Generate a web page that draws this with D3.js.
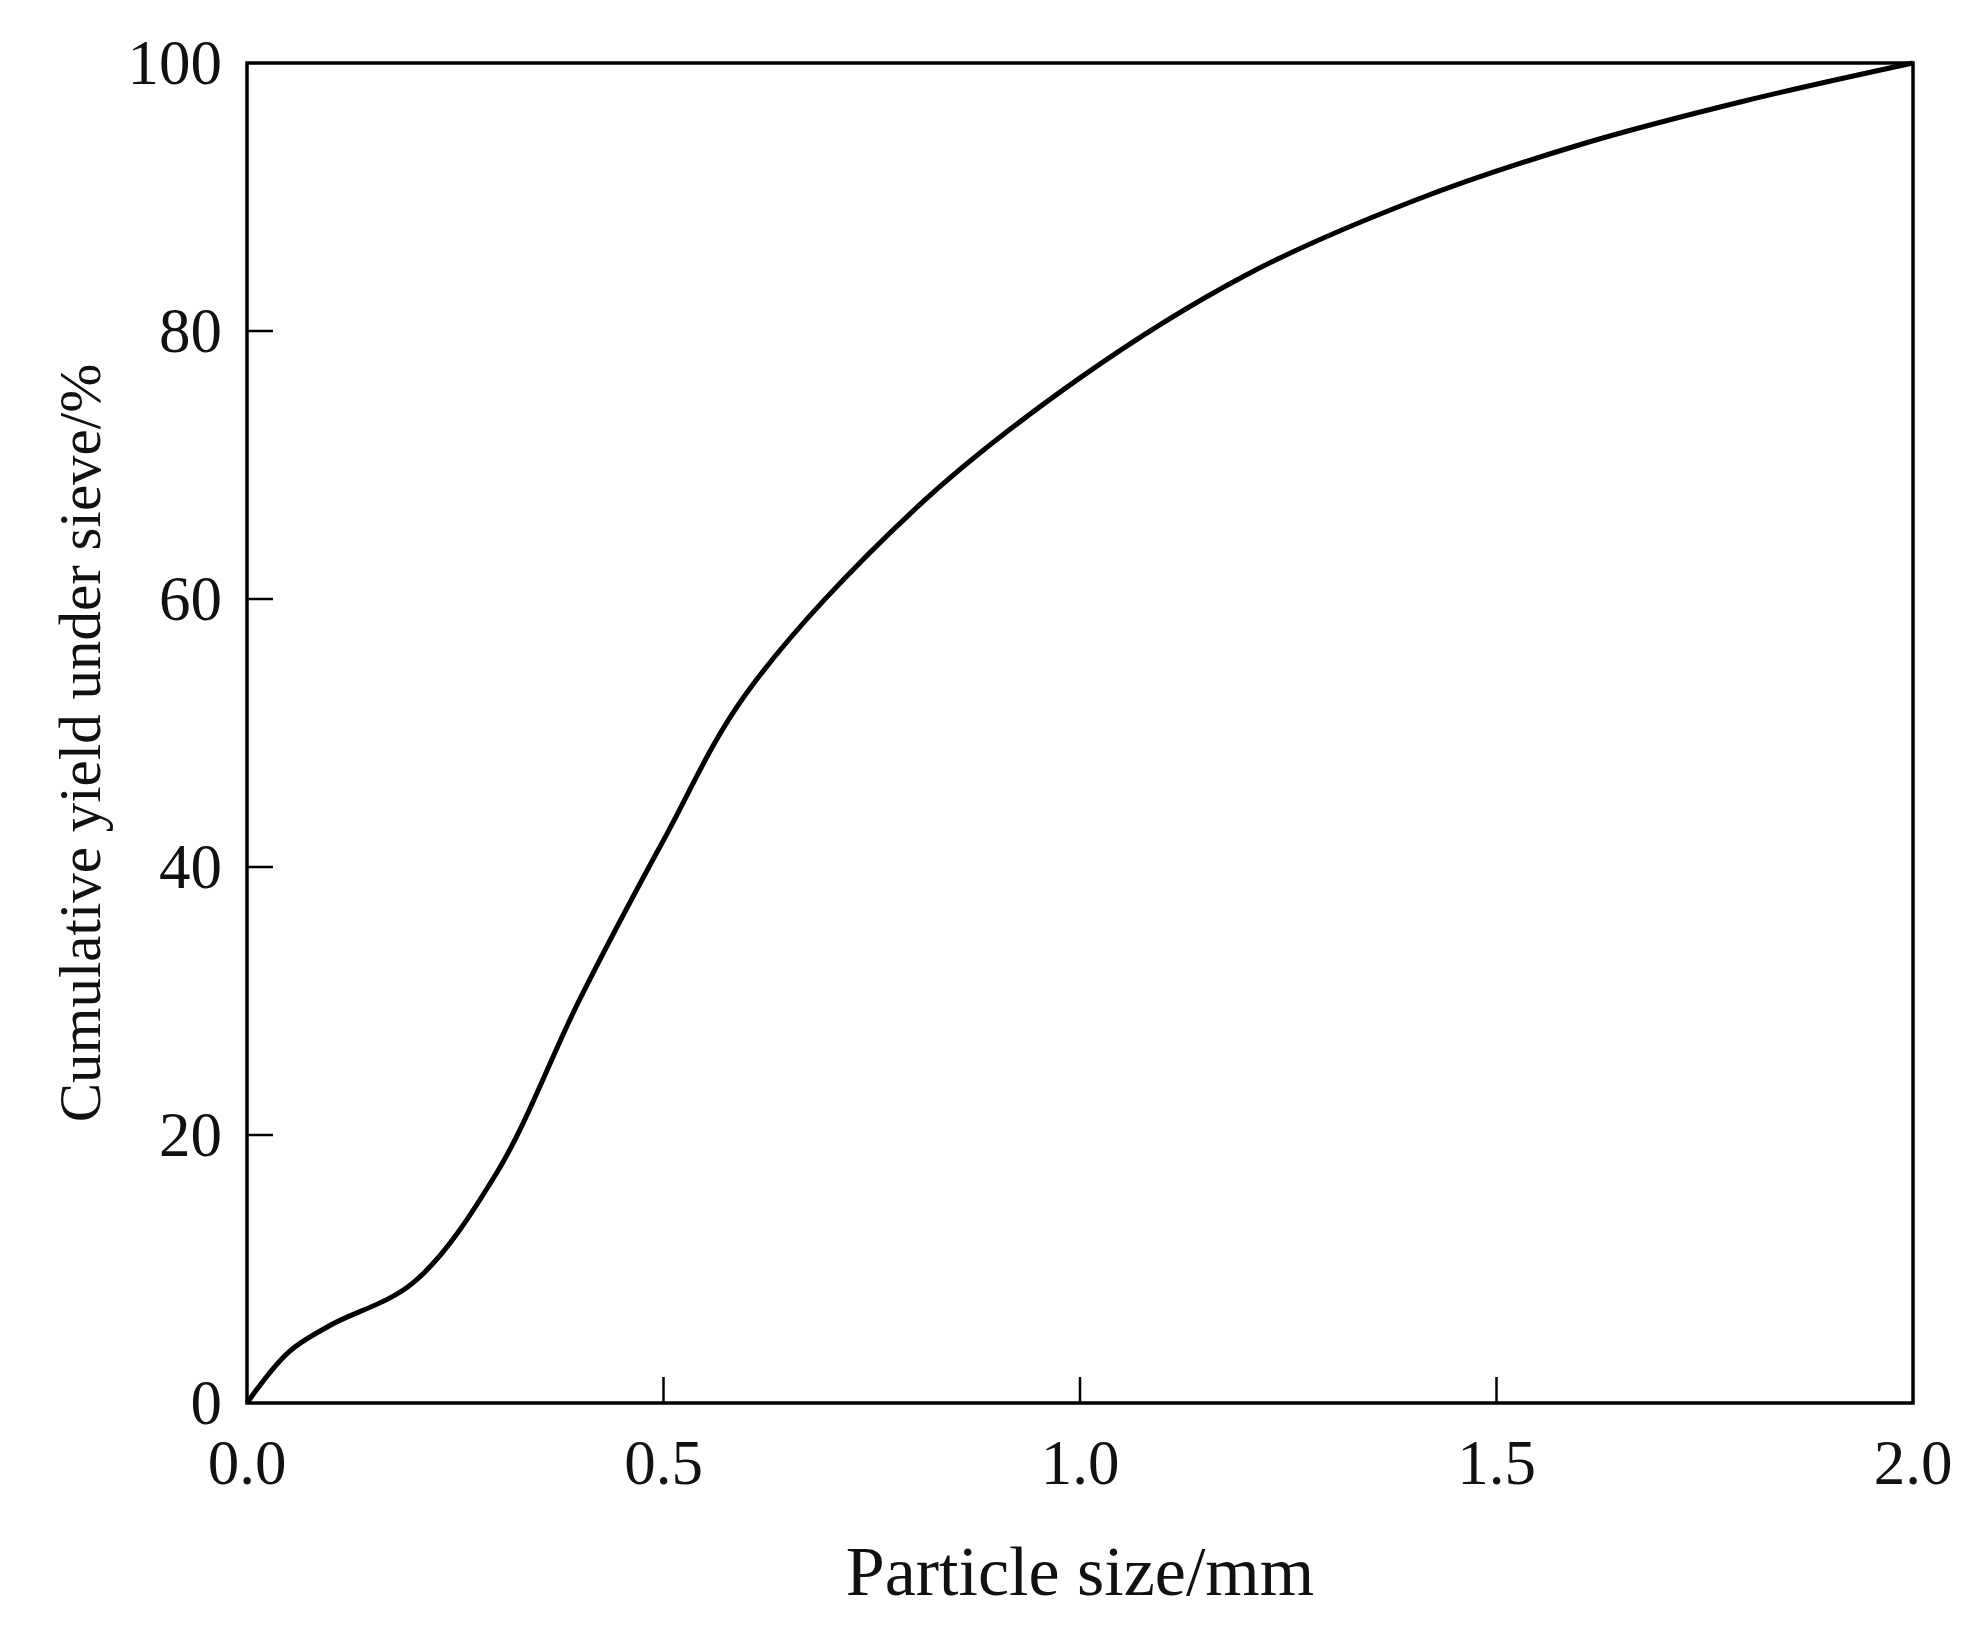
<!DOCTYPE html>
<html><head><meta charset="utf-8">
<script src="https://cdn.jsdelivr.net/npm/d3@7"></script>
<style>body{margin:0;background:#fff}text{font-family:"Liberation Serif","Times New Roman",serif;fill:#111}</style>
</head><body><svg id="chart" width="1976" height="1634"></svg>
<script>
'use strict';

var sizes  = [0, 0.05, 0.1, 0.2, 0.3, 0.4, 0.5, 0.6, 0.8, 1.0, 1.2, 1.4, 1.6, 1.8, 2.0];
var yields = [0, 3.8, 5.8, 9.0, 17.2, 30.2, 42, 53, 66.6, 76.5, 84.2, 89.7, 93.9, 97.2, 100];
var xTicks = [0, 0.5, 1.0, 1.5, 2.0];
var yTicks = [0, 20, 40, 60, 80, 100];

var svg = d3.select("#chart");
var m = {left: 247, right: 1913, top: 63, bottom: 1403};

var x = d3.scaleLinear().domain([0, 2]).range([m.left, m.right]);
var y = d3.scaleLinear().domain([0, 100]).range([m.bottom, m.top]);

var g = svg.append("g");

// inner ticks
g.selectAll(".xt").data(xTicks.slice(1, -1)).enter().append("line")
  .attr("x1", x).attr("x2", x).attr("y1", m.bottom).attr("y2", m.bottom - 26)
  .attr("stroke", "#000").attr("stroke-width", 2.5);
g.selectAll(".yt").data(yTicks.slice(1, -1)).enter().append("line")
  .attr("y1", y).attr("y2", y).attr("x1", m.left).attr("x2", m.left + 26)
  .attr("stroke", "#000").attr("stroke-width", 2.5);

g.selectAll(".xl").data(xTicks).enter().append("text")
  .attr("x", x).attr("y", 1484).attr("text-anchor", "middle")
  .attr("font-size", 63).text(function (d) { return d3.format(".1f")(d); });
g.selectAll(".yl").data(yTicks).enter().append("text")
  .attr("x", 222).attr("y", function (d) { return y(d) + 21; }).attr("text-anchor", "end")
  .attr("font-size", 63).text(function (d) { return d; });

var line = d3.line().x(function (d, i) { return x(sizes[i]); })
  .y(function (d) { return y(d); }).curve(d3.curveCatmullRom.alpha(0.5));
g.append("path").datum(yields).attr("d", line)
  .attr("fill", "none").attr("stroke", "#000").attr("stroke-width", 5);

g.append("rect").attr("x", m.left).attr("y", m.top)
  .attr("width", m.right - m.left).attr("height", m.bottom - m.top)
  .attr("fill", "none").attr("stroke", "#000").attr("stroke-width", 3.5);

svg.append("text").attr("x", (m.left + m.right) / 2).attr("y", 1595)
  .attr("text-anchor", "middle").attr("font-size", 70).text("Particle size/mm");
svg.append("text").attr("transform", "translate(100," + ((m.top + m.bottom) / 2 + 10) + ") rotate(-90)")
  .attr("text-anchor", "middle").attr("font-size", 59).text("Cumulative yield under sieve/%");
</script></body></html>
